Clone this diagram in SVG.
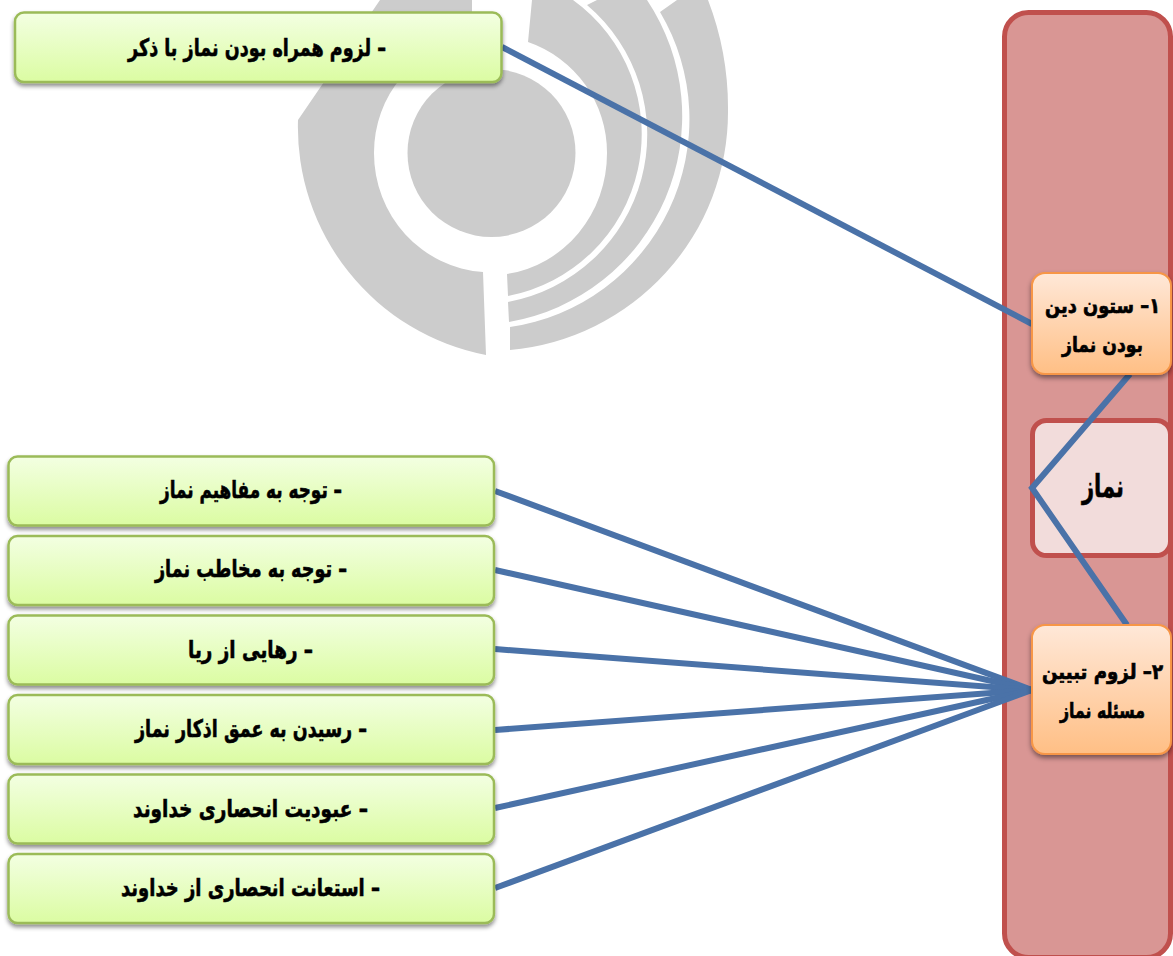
<svg xmlns="http://www.w3.org/2000/svg" width="1173" height="956" viewBox="0 0 1173 956">
<defs>
<linearGradient id="gGreen" x1="0" y1="0" x2="0" y2="1"><stop offset="0" stop-color="#f3ffe2"/><stop offset="1" stop-color="#dbfca2"/></linearGradient>
<linearGradient id="gOrange" x1="0" y1="0" x2="0" y2="1"><stop offset="0" stop-color="#ffe8d8"/><stop offset="1" stop-color="#ffbf85"/></linearGradient>
<filter id="sh" x="-5%" y="-15%" width="110%" height="130%"><feDropShadow dx="0" dy="3" stdDeviation="2.2" flood-color="#000" flood-opacity="0.45"/></filter>
<filter id="shO" x="-10%" y="-10%" width="120%" height="125%"><feDropShadow dx="0" dy="3" stdDeviation="2.5" flood-color="#000" flood-opacity="0.45"/></filter>
</defs>
<style>
.g{fill:url(#gGreen);stroke:#9bbb59;stroke-width:2.5;filter:url(#sh)}
.o{fill:url(#gOrange);stroke:#f79646;stroke-width:2;filter:url(#shO)}
.t{font-family:"DejaVu Sans",sans-serif;font-weight:700;fill:#000;stroke:#000;stroke-width:0.6;text-anchor:middle;direction:rtl;font-size:24px}
.b{font-size:21px;stroke-width:0.7}
.c{fill:none;stroke:#4a72a8;stroke-width:6}
.l{fill:#cccccc}
</style>
<rect width="1173" height="956" fill="#fff"/>
<g id="logo">
<circle class="l" cx="491.5" cy="153" r="84"/>
<path class="l" d="M298,120 L380,0 H472 V37 A117,117 0 0 0 374,153 A117,119 0 0 0 483,272 L486,355 A232,232 0 0 1 298,120 Z"/>
<path class="l" d="M532,0 L528,42 A117,117 0 0 1 607,153 A117,122 0 0 1 507,274 L508,296 A165,165 0 0 0 573,0 Z"/>
<path class="l" d="M597,0 L587,5 A170,170 0 0 1 508,302 L509,322 A209,209 0 0 0 647,0 Z"/>
<path class="l" d="M677,0 L660,12 A210,210 0 0 1 510,327 L510,350 A239,239 0 0 0 728,110 A300,300 0 0 0 708,0 Z"/>
</g>
<g id="panel"><rect x="1004.5" y="12.5" width="166" height="945" rx="24" fill="#d99694" stroke="#c0504d" stroke-width="5"/></g>
<g id="node-namaz"><rect x="1032.5" y="420.5" width="138" height="135" rx="14" fill="#f2dcdb" stroke="#c0504d" stroke-width="5"/><text class="t" x="1103" y="497" style="font-size:31px" textLength="42" lengthAdjust="spacingAndGlyphs">نماز</text></g>
<g id="connectors">
<path class="c" d="M502,47 L1032,324"/>
<path class="c" d="M1130,374 L1032,488 L1127,625"/>
<path class="c" d="M495,491 L1032,690"/>
<path class="c" d="M495,570 L1032,690"/>
<path class="c" d="M495,649 L1032,690"/>
<path class="c" d="M495,730 L1032,690"/>
<path class="c" d="M495,808 L1032,690"/>
<path class="c" d="M495,888 L1032,690"/>
</g>
<g id="node-1"><rect class="o" x="1032" y="273" width="139" height="101" rx="13"/><text class="t b" x="1102.5" y="313" textLength="115" lengthAdjust="spacingAndGlyphs">۱– ستون دین</text><text class="t b" x="1102.5" y="352" textLength="81" lengthAdjust="spacingAndGlyphs">بودن نماز</text></g>
<g id="node-2"><rect class="o" x="1032" y="625" width="139" height="129" rx="13"/><text class="t b" x="1102.5" y="679" textLength="121" lengthAdjust="spacingAndGlyphs">۲– لزوم تبیین</text><text class="t b" x="1102.5" y="718" textLength="85" lengthAdjust="spacingAndGlyphs">مسئله نماز</text></g>
<g id="node-a"><rect class="g" x="15" y="12.5" width="486.500" height="69.500" rx="9"/><text class="t" x="257" y="56" textLength="258" lengthAdjust="spacingAndGlyphs">– لزوم همراه بودن نماز با ذکر</text></g>
<g id="node-b1"><rect class="g" x="8.500" y="456.500" width="485.500" height="69" rx="9"/><text class="t" x="251" y="498" textLength="182" lengthAdjust="spacingAndGlyphs">– توجه به مفاهیم نماز</text></g>
<g id="node-b2"><rect class="g" x="8.500" y="536" width="485.500" height="69" rx="9"/><text class="t" x="251" y="577" textLength="192" lengthAdjust="spacingAndGlyphs">– توجه به مخاطب نماز</text></g>
<g id="node-b3"><rect class="g" x="8.500" y="615.500" width="485.500" height="69" rx="9"/><text class="t" x="250.500" y="658" textLength="125" lengthAdjust="spacingAndGlyphs">– رهایی از ریا</text></g>
<g id="node-b4"><rect class="g" x="8.500" y="695" width="485.500" height="69" rx="9"/><text class="t" x="251" y="737" textLength="232" lengthAdjust="spacingAndGlyphs">– رسیدن به عمق اذکار نماز</text></g>
<g id="node-b5"><rect class="g" x="8.500" y="774.500" width="485.500" height="69" rx="9"/><text class="t" x="250.500" y="817" textLength="235" lengthAdjust="spacingAndGlyphs">– عبودیت انحصاری خداوند</text></g>
<g id="node-b6"><rect class="g" x="8.500" y="854" width="485.500" height="69" rx="9"/><text class="t" x="250.500" y="896" textLength="259" lengthAdjust="spacingAndGlyphs">– استعانت انحصاری از خداوند</text></g>
</svg>
